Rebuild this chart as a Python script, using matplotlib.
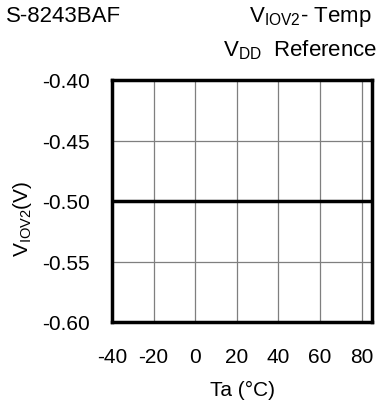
import matplotlib
matplotlib.use("Agg")
import matplotlib.pyplot as plt

plt.rcParams['font.family'] = ['Liberation Sans', 'DejaVu Sans']
plt.rcParams['mathtext.fontset'] = 'custom'
plt.rcParams['mathtext.rm'] = 'Liberation Sans'
plt.rcParams['mathtext.it'] = 'Liberation Sans'
plt.rcParams['axes.unicode_minus'] = False

temps = [-40, -20, 0, 20, 40, 60, 85]
viov2 = [-0.50, -0.50, -0.50, -0.50, -0.50, -0.50, -0.50]
xticks = [-40, -20, 0, 20, 40, 60, 80]
yticks = [-0.60, -0.55, -0.50, -0.45, -0.40]
ytick_labels = ["-0.60", "-0.55", "-0.50", "-0.45", "-0.40"]

fig = plt.figure(figsize=(3.8, 4.1), dpi=100)
ax = fig.add_axes([112/380, 1-323/410, 260/380, 242/410])

ax.plot(temps, viov2, color='black', linewidth=2.5, solid_capstyle='butt', zorder=3)
ax.set_xlim(-40, 85)
ax.set_ylim(-0.60, -0.40)
ax.set_xticks(xticks)
ax.set_yticks(yticks)
ax.set_yticklabels(ytick_labels)
ax.grid(True, color='#7f7f7f', linewidth=0.9)
ax.tick_params(length=0, labelsize=15, pad=16)
ax.tick_params(axis='x', pad=18)
for s in ax.spines.values():
    s.set_linewidth(2.5)
    s.set_zorder(4)

ax.set_xlabel("Ta (°C)", fontsize=15, labelpad=10)
ax.set_ylabel(r"V$_{\mathrm{IOV2}}$(V)", fontsize=15)
ax.yaxis.set_label_coords(-0.30, 0.43)

fig.text(6/380, 1-17/410, "S-8243BAF", fontsize=16, va='center', ha='left')
fig.text(372/380, 1-17/410, r"V$_{\mathrm{IOV2}}$- Temp", fontsize=16, va='center', ha='right')
fig.text(377/380, 1-50/410, r"V$_{\mathrm{DD}}$  Reference", fontsize=16, va='center', ha='right')

fig.savefig("out.png", dpi=100)
